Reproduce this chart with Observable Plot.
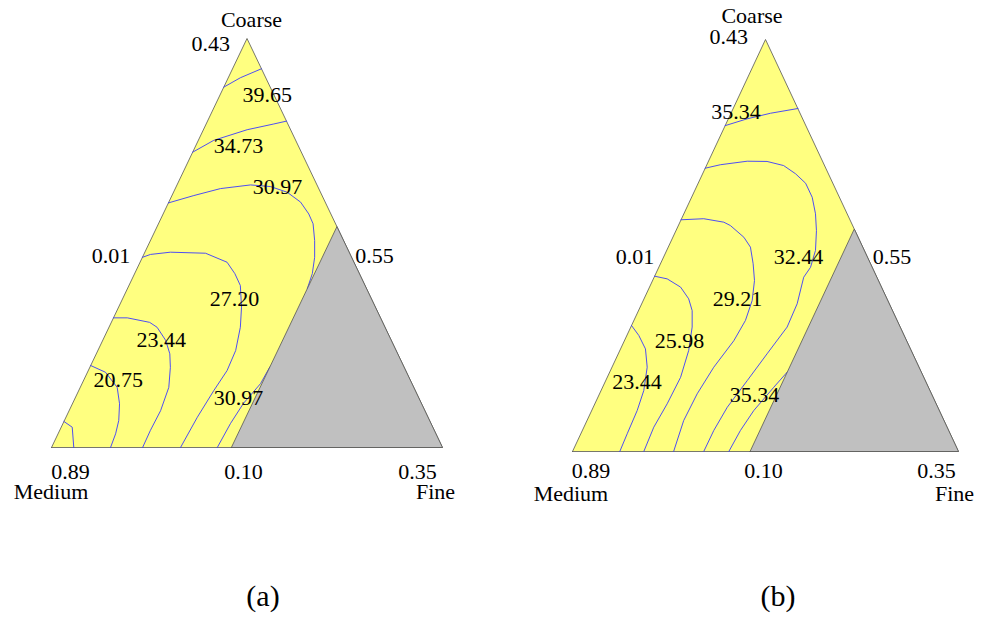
<!DOCTYPE html>
<html>
<head>
<meta charset="utf-8">
<script src="https://cdn.jsdelivr.net/npm/d3@7"></script>
<script src="https://cdn.jsdelivr.net/npm/@observablehq/plot@0.6"></script>
<style>
html, body { margin: 0; padding: 0; background: #ffffff; }
#root { position: relative; width: 990px; height: 617px; overflow: hidden; }
.panel { position: absolute; top: 0; }
.cap { position: absolute; top: 581px; width: 80px; margin-left: -40px; text-align: center;
       font-family: "Liberation Serif", serif; font-size: 30px; line-height: 30px; color: #000; }
</style>
</head>
<body>
<div id="root"></div>
<script>
// ---------- data (normalised triangle coordinates: u along base 0..1, v height 0..1) ----------
const vertexNames = ["Medium", "Fine", "Coarse"];
const captions = ["(a)", "(b)"];

// edge tick values of the pseudo-component ternary
const ticksA = ["0.89", "0.10", "0.35", "0.01", "0.55", "0.43"];
const ticksB = ["0.89", "0.10", "0.35", "0.01", "0.55", "0.43"];

// triangle and infeasible (grey) region corners
const outerTri = [[0, 0], [1, 0], [0.5, 1], [0, 0]];
const greyTri = [[0.46, 0], [1, 0], [0.73, 0.54], [0.46, 0]];

// panel (a) contour levels and traced iso-lines
const levelsA = [39.65, 34.73, 30.97, 27.20, 23.44, 20.75, null, 30.97];
const linesA = [
  [[0.4405, 0.881], [0.483, 0.904], [0.537, 0.926]],
  [[0.361, 0.722], [0.415, 0.751], [0.5005, 0.777], [0.5685, 0.791], [0.601, 0.798]],
  [[0.299, 0.598], [0.364, 0.616], [0.432, 0.633], [0.509, 0.642], [0.560, 0.638], [0.603, 0.624],
   [0.637, 0.600], [0.658, 0.571], [0.669, 0.547], [0.673, 0.506], [0.673, 0.465], [0.667, 0.425], [0.6545, 0.389]],
  [[0.2327, 0.465], [0.253, 0.472], [0.304, 0.4775], [0.394, 0.475], [0.449, 0.453], [0.469, 0.425],
   [0.483, 0.396], [0.486, 0.343], [0.483, 0.294], [0.471, 0.237], [0.449, 0.188], [0.415, 0.139], [0.373, 0.074], [0.330, 0]],
  [[0.1585, 0.317], [0.194, 0.317], [0.251, 0.306], [0.270, 0.294], [0.292, 0.262], [0.3026, 0.229],
   [0.304, 0.196], [0.300, 0.147], [0.279, 0.090], [0.253, 0.042], [0.233, 0]],
  [[0.100, 0.2005], [0.138, 0.184], [0.168, 0.147], [0.174, 0.107], [0.172, 0.066], [0.164, 0.0335], [0.151, 0]],
  [[0.0318, 0.0636], [0.053, 0.0496], [0.057, 0]],
  [[0.5585, 0.197], [0.5345, 0.156], [0.491, 0.108], [0.458, 0.059], [0.424, 0]]
];
// where each level's number is written in panel (a)
const labelTextA = ["39.65", "34.73", "30.97", "27.20", "23.44", "20.75", "30.97"];
const labelPosA = [[0.552, 0.844], [0.478, 0.719], [0.578, 0.621], [0.468, 0.345], [0.281, 0.2445], [0.171, 0.147], [0.478, 0.105]];

// panel (b)
const levelsB = [35.34, 32.44, 29.21, 25.98, 23.44, 35.34];
const linesB = [
  [[0.3957, 0.791], [0.4526, 0.8075], [0.513, 0.821], [0.584, 0.8325]],
  [[0.3438, 0.6876], [0.383, 0.696], [0.4526, 0.7046], [0.504, 0.704], [0.547, 0.694], [0.578, 0.674],
   [0.604, 0.651], [0.621, 0.617], [0.6295, 0.577], [0.632, 0.536], [0.6295, 0.488], [0.6166, 0.447],
   [0.599, 0.423], [0.582, 0.3585], [0.556, 0.302], [0.504, 0.237], [0.4526, 0.172], [0.401, 0.1075], [0.366, 0.051], [0.340, 0]],
  [[0.2812, 0.5624], [0.340, 0.565], [0.392, 0.5566], [0.409, 0.5485], [0.444, 0.520], [0.461, 0.496],
   [0.468, 0.4556], [0.4715, 0.415], [0.4655, 0.3665], [0.448, 0.318], [0.418, 0.269], [0.366, 0.2046],
   [0.323, 0.140], [0.288, 0.075], [0.262, 0]],
  [[0.2127, 0.4255], [0.2453, 0.419], [0.280, 0.399], [0.301, 0.3706], [0.310, 0.342], [0.310, 0.302],
   [0.301, 0.245], [0.280, 0.180], [0.2453, 0.1158], [0.2106, 0.059], [0.1847, 0]],
  [[0.1529, 0.3058], [0.1718, 0.2816], [0.189, 0.249], [0.1935, 0.2046], [0.1847, 0.148], [0.1676, 0.0995],
   [0.1417, 0.043], [0.1225, 0]],
  [[0.556, 0.1925], [0.5215, 0.156], [0.4697, 0.0995], [0.435, 0.051], [0.405, 0]]
];
const labelTextB = ["35.34", "32.44", "29.21", "25.98", "23.44", "35.34"];
const labelPosB = [[0.4236, 0.808], [0.5855, 0.454], [0.4275, 0.352], [0.277, 0.2524], [0.167, 0.1505], [0.4715, 0.121]];

// ---------- layout (not data) ----------
const panels = [
  { left: 0, ml: 51, mr: 53, mt: 38, mb: 93, lines: linesA, levels: levelsA, ticks: ticksA,
    labelText: labelTextA, labelPos: labelPosA,
    tickPos: [[0.0486, -0.0758], [0.491, -0.0758], [0.936, -0.0758], [0.152, 0.450], [0.826, 0.450], [0.407, 0.969]],
    namePos: [[-0.0013, -0.127], [0.982, -0.127], [0.5115, 1.029]], capX: 263 },
  { left: 495, ml: 77, mr: 32, mt: 39, mb: 89, lines: linesB, levels: levelsB, ticks: ticksB,
    labelText: labelTextB, labelPos: labelPosB,
    tickPos: [[0.048, -0.0655], [0.495, -0.0655], [0.943, -0.0655], [0.162, 0.456], [0.828, 0.456], [0.405, 0.988]],
    namePos: [[-0.004, -0.119], [0.9896, -0.119], [0.465, 1.041]], capX: 778 }
];

const font = "Liberation Serif";
const root = document.getElementById("root");

panels.forEach((p, k) => {
  const rows = [];
  p.lines.forEach((pts, i) => pts.forEach(([u, v]) => rows.push({ u, v, id: i, level: p.levels[i] })));
  const toObj = (arr) => arr.map(([u, v]) => ({ u, v }));
  const contourLabels = p.labelText.map((t, i) => ({ t, u: p.labelPos[i][0], v: p.labelPos[i][1] }));
  const tickLabels = p.ticks.map((t, i) => ({ t, u: p.tickPos[i][0], v: p.tickPos[i][1] }));
  const nameLabels = vertexNames.map((t, i) => ({ t, u: p.namePos[i][0], v: p.namePos[i][1] }));

  const chart = Plot.plot({
    width: 495,
    height: 540,
    marginLeft: p.ml, marginRight: p.mr, marginTop: p.mt, marginBottom: p.mb,
    x: { domain: [0, 1], axis: null },
    y: { domain: [0, 1], axis: null },
    style: { background: "transparent", overflow: "visible" },
    marks: [
      Plot.line(toObj(outerTri), { x: "u", y: "v", fill: "#ffff80", stroke: "#555555", strokeWidth: 0.8 }),
      Plot.line(rows, { x: "u", y: "v", z: "id", stroke: "#3a3aff", strokeWidth: 0.9 }),
      Plot.line(toObj(greyTri), { x: "u", y: "v", fill: "#c0c0c0", stroke: "#555555", strokeWidth: 0.8 }),
      Plot.text(contourLabels, { x: "u", y: "v", text: "t", lineAnchor: "bottom", fontSize: 22, fontFamily: font, fill: "#000" }),
      Plot.text(tickLabels, { x: "u", y: "v", text: "t", lineAnchor: "bottom", fontSize: 22, fontFamily: font, fill: "#000" }),
      Plot.text(nameLabels, { x: "u", y: "v", text: "t", lineAnchor: "bottom", fontSize: 22, fontFamily: font, fill: "#000" })
    ]
  });
  chart.classList.add("panel");
  chart.style.left = p.left + "px";
  root.appendChild(chart);

  const cap = document.createElement("div");
  cap.className = "cap";
  cap.style.left = p.capX + "px";
  cap.textContent = captions[k];
  root.appendChild(cap);
});
</script>
</body>
</html>
